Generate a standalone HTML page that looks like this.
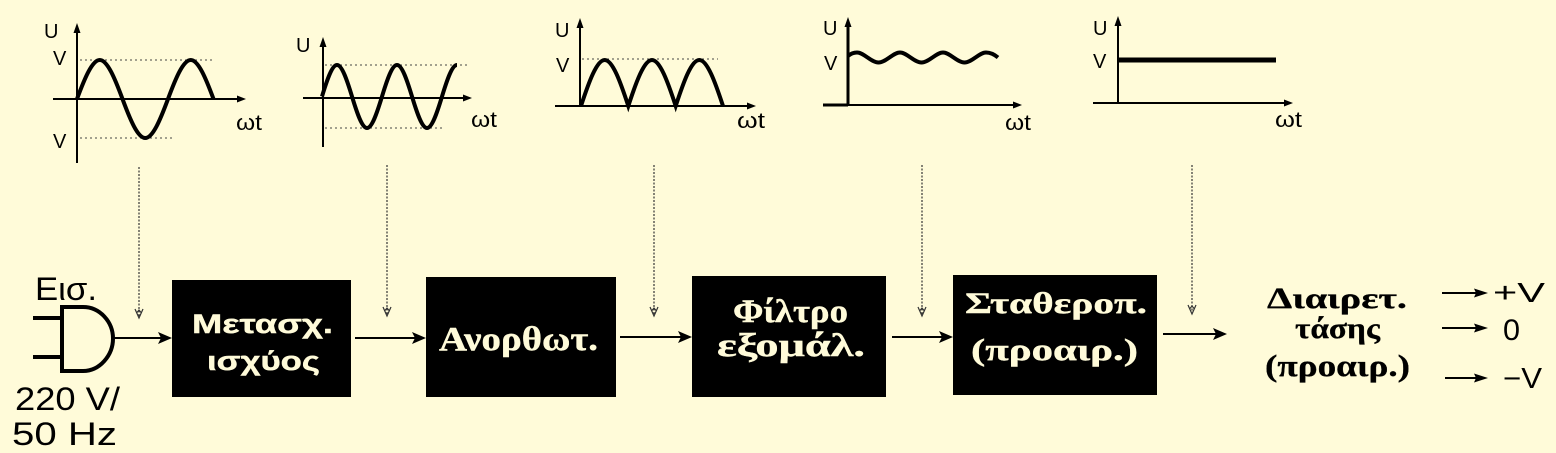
<!DOCTYPE html>
<html>
<head>
<meta charset="utf-8">
<style>
  html, body { margin: 0; padding: 0; background: #FFFBD9; }
  svg { display: block; }
  .sans { font-family: "Liberation Sans", "DejaVu Sans", sans-serif; }
  .serif { font-family: "Liberation Serif", "DejaVu Serif", serif; font-weight: bold; }
</style>
</head>
<body>
<svg width="1556" height="453" viewBox="0 0 1556 453" xmlns="http://www.w3.org/2000/svg">
  <rect x="0" y="0" width="1556" height="453" fill="#FFFBD9"/>

  <!-- ============ GRAPH 1 ============ -->
  <g stroke="#000" fill="none">
    <line x1="77" y1="32" x2="77" y2="163" stroke-width="2"/>
    <line x1="53" y1="99" x2="238" y2="99" stroke-width="2"/>
    <line x1="80" y1="60" x2="213" y2="60" stroke="#444" stroke-width="1" stroke-dasharray="2 3"/>
    <line x1="80" y1="138" x2="175" y2="138" stroke="#444" stroke-width="1" stroke-dasharray="2 3"/>
    <path d="M77,99 C84.58,78.58 92.17,60 99.75,60 C107.33,60 114.92,78.58 122.5,99 C130.08,119.42 137.67,138 145.25,138 C152.83,138 160.42,119.42 168,99 C175.58,78.58 183.17,60 190.75,60 C198.33,60 205.92,78.58 213.5,99" stroke-width="4"/>
  </g>
  <path d="M77,23 L73.5,33 L80.5,33 Z" fill="#000"/>
  <path d="M246,99 L237,95.5 L237,102.5 Z" fill="#000"/>
  <text class="sans" x="44" y="38" font-size="20">U</text>
  <text class="sans" x="53" y="65" font-size="20">V</text>
  <text class="sans" x="53" y="148" font-size="20">V</text>
  <text class="sans" x="236" y="130" font-size="22" textLength="26" lengthAdjust="spacingAndGlyphs">ωt</text>

  <!-- ============ GRAPH 2 ============ -->
  <g stroke="#000" fill="none">
    <line x1="323" y1="46" x2="323" y2="147" stroke-width="2"/>
    <line x1="303" y1="98" x2="464" y2="98" stroke-width="2"/>
    <line x1="325" y1="65" x2="470" y2="65" stroke="#444" stroke-width="1" stroke-dasharray="2 3"/>
    <line x1="325" y1="128" x2="443" y2="128" stroke="#444" stroke-width="1" stroke-dasharray="2 3"/>
    <path d="M322,96.5 C327,80 332,65 337,65 C342,65 347,80 352,96.5 C357,113 362,128 367,128 C372,128 377,113 382,96.5 C387,80 392,65 397,65 C402,65 407,80 412,96.5 C417,113 422,128 427,128 C432,128 437,113 442,96.5 C447,80 452,65 457,65" stroke-width="4"/>
  </g>
  <path d="M323,37 L319.5,47 L326.5,47 Z" fill="#000"/>
  <path d="M472,98 L463,94.5 L463,101.5 Z" fill="#000"/>
  <text class="sans" x="296" y="52" font-size="20">U</text>
  <text class="sans" x="471" y="127" font-size="22" textLength="26" lengthAdjust="spacingAndGlyphs">ωt</text>

  <!-- ============ GRAPH 3 ============ -->
  <g stroke="#000" fill="none">
    <line x1="580" y1="28" x2="580" y2="106" stroke-width="2"/>
    <line x1="555" y1="106" x2="748" y2="106" stroke-width="2"/>
    <line x1="582" y1="59" x2="718" y2="59" stroke="#444" stroke-width="1" stroke-dasharray="2 3"/>
    <path d="M581,106 C588.9,81.9 596.8,60 604.7,60 C612.6,60 620.4,81.9 628.3,106 C636.2,81.9 644.1,60 652,60 C659.9,60 667.8,81.9 675.7,106 C683.6,81.9 691.4,60 699.3,60 C707.2,60 715.1,81.9 723,106" stroke-width="4"/>
  </g>
  <path d="M580,18 L576.5,28 L583.5,28 Z" fill="#000"/>
  <path d="M756,106 L747,102.5 L747,109.5 Z" fill="#000"/>
  <text class="sans" x="555" y="37" font-size="20">U</text>
  <text class="sans" x="556" y="72" font-size="20">V</text>
  <text class="sans" x="737" y="128" font-size="22" textLength="28" lengthAdjust="spacingAndGlyphs">ωt</text>

  <!-- ============ GRAPH 4 ============ -->
  <g stroke="#000" fill="none">
    <line x1="848" y1="26" x2="848" y2="106" stroke-width="3"/>
    <line x1="823" y1="105" x2="1014" y2="105" stroke-width="2"/>
    <line x1="823" y1="105" x2="848" y2="105" stroke-width="3"/>
    <path d="M848,56 Q852,52.5 857,52.5 C864,52.5 871,62.5 878.5,62.5 C886,62.5 893,52.5 900,52.5 C907,52.5 914,62.5 921.5,62.5 C929,62.5 936,52.5 943,52.5 C950,52.5 957,62.5 964.5,62.5 C972,62.5 979,52.5 986,52.5 C991,52.5 995,55 998,57.5" stroke-width="4"/>
  </g>
  <path d="M848,17 L844.5,27 L851.5,27 Z" fill="#000"/>
  <path d="M1022,105 L1013,101.5 L1013,108.5 Z" fill="#000"/>
  <text class="sans" x="823" y="35" font-size="20">U</text>
  <text class="sans" x="824" y="70" font-size="20">V</text>
  <text class="sans" x="1005" y="130" font-size="22" textLength="26" lengthAdjust="spacingAndGlyphs">ωt</text>

  <!-- ============ GRAPH 5 ============ -->
  <g stroke="#000" fill="none">
    <line x1="1118" y1="26" x2="1118" y2="103" stroke-width="2"/>
    <line x1="1093" y1="103" x2="1285" y2="103" stroke-width="2"/>
  </g>
  <rect x="1118" y="57.5" width="158" height="5" fill="#000"/>
  <path d="M1118,16 L1114.5,26 L1121.5,26 Z" fill="#000"/>
  <path d="M1293,103 L1284,99.5 L1284,106.5 Z" fill="#000"/>
  <text class="sans" x="1093" y="35" font-size="20">U</text>
  <text class="sans" x="1093" y="68" font-size="20">V</text>
  <text class="sans" x="1275" y="127" font-size="22" textLength="27" lengthAdjust="spacingAndGlyphs">ωt</text>

  <!-- ============ DOTTED VERTICAL ARROWS ============ -->
  <g stroke="#333" stroke-width="1.2" fill="none">
    <line x1="139" y1="167" x2="139" y2="316" stroke-dasharray="2 1.5"/>
    <polyline points="135,309 139,318 143,309"/>
    <polyline points="136.5,313 139,310 141.5,313"/>
    <line x1="387" y1="165" x2="387" y2="314" stroke-dasharray="2 1.5"/>
    <polyline points="383,307 387,316 391,307"/>
    <polyline points="384.5,311 387,308 389.5,311"/>
    <line x1="654" y1="165" x2="654" y2="314" stroke-dasharray="2 1.5"/>
    <polyline points="650,307 654,316 658,307"/>
    <polyline points="651.5,311 654,308 656.5,311"/>
    <line x1="922" y1="165" x2="922" y2="314" stroke-dasharray="2 1.5"/>
    <polyline points="918,307 922,316 926,307"/>
    <polyline points="919.5,311 922,308 924.5,311"/>
    <line x1="1192" y1="165" x2="1192" y2="312" stroke-dasharray="2 1.5"/>
    <polyline points="1188,305 1192,314 1196,305"/>
    <polyline points="1189.5,309 1192,306 1194.5,309"/>
  </g>

  <!-- ============ PLUG ============ -->
  <g stroke="#000" stroke-width="4" fill="none">
    <line x1="33" y1="318" x2="62" y2="318"/>
    <line x1="33" y1="357" x2="62" y2="357"/>
    <path d="M62,307 L83,307 C100,307 113,322 113,338.5 C113,355 100,371 83,371 L62,371 Z"/>
  </g>
  <text class="sans" x="35" y="300" font-size="32" textLength="62" lengthAdjust="spacingAndGlyphs">Εισ.</text>
  <text class="sans" x="15" y="410" font-size="32" textLength="105" lengthAdjust="spacingAndGlyphs">220 V/</text>
  <text class="sans" x="12" y="445" font-size="32" textLength="105" lengthAdjust="spacingAndGlyphs">50 Hz</text>

  <!-- ============ HORIZONTAL ARROWS ============ -->
  <g stroke="#000" stroke-width="2">
    <line x1="113" y1="338" x2="162" y2="338"/>
    <line x1="355" y1="338" x2="416" y2="338"/>
    <line x1="620" y1="337" x2="682" y2="337"/>
    <line x1="892" y1="337" x2="943" y2="337"/>
    <line x1="1163" y1="334" x2="1217" y2="334"/>
    <line x1="1442" y1="293" x2="1478" y2="293"/>
    <line x1="1442" y1="328" x2="1478" y2="328"/>
    <line x1="1445" y1="378" x2="1478" y2="378"/>
  </g>
  <g fill="#000">
    <path d="M172,338 L158,332 L161,338 L158,344 Z"/>
    <path d="M426,338 L412,332 L415,338 L412,344 Z"/>
    <path d="M692,337 L678,331 L681,337 L678,343 Z"/>
    <path d="M953,337 L939,331 L942,337 L939,343 Z"/>
    <path d="M1227,334 L1213,328 L1216,334 L1213,340 Z"/>
    <path d="M1488,293 L1474,288.5 L1476,293 L1474,297.5 Z"/>
    <path d="M1488,328 L1474,323.5 L1476,328 L1474,332.5 Z"/>
    <path d="M1488,378 L1474,373.5 L1476,378 L1474,382.5 Z"/>
  </g>

  <!-- ============ BOXES ============ -->
  <rect x="172" y="280" width="179" height="117" fill="#000"/>
  <rect x="426" y="277" width="190" height="120" fill="#000"/>
  <rect x="692" y="276" width="194" height="121" fill="#000"/>
  <rect x="953" y="275" width="204" height="120" fill="#000"/>

  <g fill="#FFFBD9" stroke="#FFFBD9" stroke-width="0.4">
    <text class="sans" x="192" y="333" font-size="27" font-weight="bold" textLength="141" lengthAdjust="spacingAndGlyphs">Μετασχ.</text>
    <text class="sans" x="207" y="370" font-size="27" font-weight="bold" textLength="113" lengthAdjust="spacingAndGlyphs">ισχύος</text>

    <text class="serif" x="439" y="350" font-size="34" textLength="159" lengthAdjust="spacingAndGlyphs">Ανορθωτ.</text>

    <text class="serif" x="733" y="322" font-size="33" textLength="115" lengthAdjust="spacingAndGlyphs">Φίλτρο</text>
    <text class="serif" x="717" y="356" font-size="33" textLength="148" lengthAdjust="spacingAndGlyphs">εξομάλ.</text>

    <text class="serif" x="965" y="313" font-size="30" textLength="182" lengthAdjust="spacingAndGlyphs">Σταθεροπ.</text>
    <text class="serif" x="971" y="360" font-size="31" textLength="167" lengthAdjust="spacingAndGlyphs">(προαιρ.)</text>
  </g>

  <!-- ============ RIGHT TEXT ============ -->
  <g fill="#000" stroke="#000" stroke-width="0.3">
    <text class="serif" x="1267" y="308" font-size="30" textLength="140" lengthAdjust="spacingAndGlyphs">Διαιρετ.</text>
    <text class="serif" x="1295" y="338" font-size="30" textLength="85" lengthAdjust="spacingAndGlyphs">τάσης</text>
    <text class="serif" x="1265" y="376" font-size="31" textLength="145" lengthAdjust="spacingAndGlyphs">(προαιρ.)</text>
  </g>

  <text class="sans" x="1493" y="302" font-size="28" fill="#000" textLength="52" lengthAdjust="spacingAndGlyphs">+V</text>
  <text class="sans" x="1503" y="340" font-size="30" fill="#000" textLength="17" lengthAdjust="spacingAndGlyphs">0</text>
  <text class="sans" x="1503" y="388" font-size="29" fill="#000" textLength="39" lengthAdjust="spacingAndGlyphs">−V</text>
</svg>
</body>
</html>
